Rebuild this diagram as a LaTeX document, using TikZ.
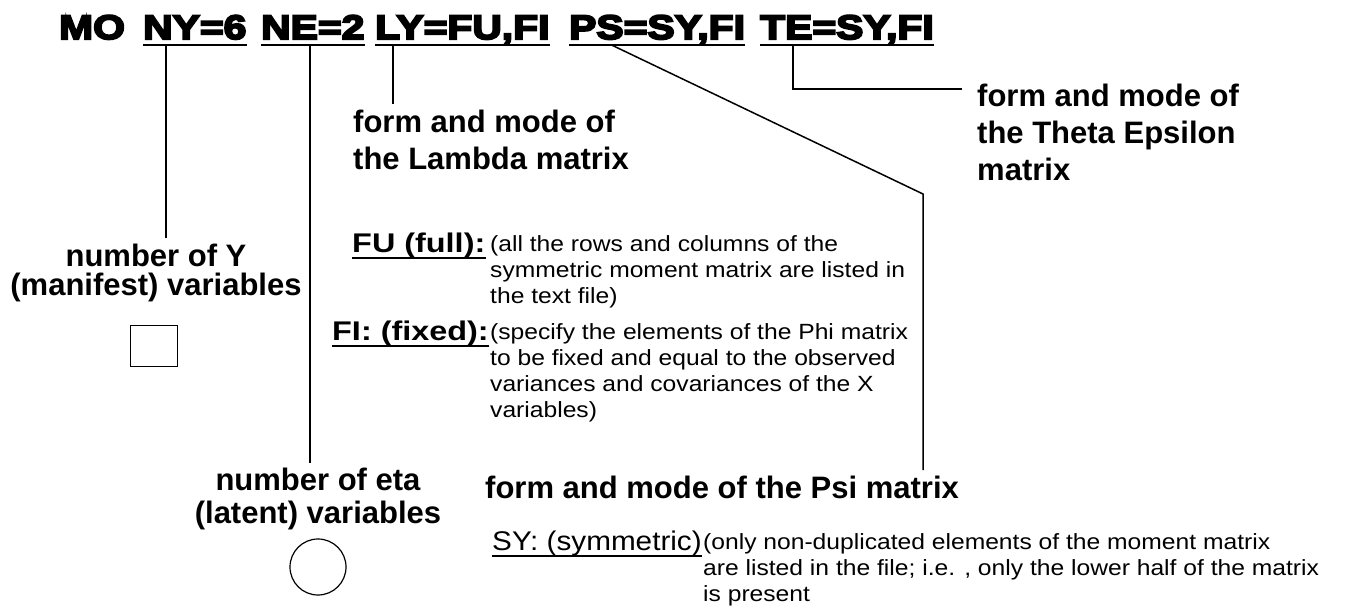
\documentclass[tikz,border=0pt]{standalone}
\usepackage{fontspec}
\setmainfont{Liberation Sans}
\newfontfamily\cmdfont{Liberation Sans}[UprightFont=* Bold,FakeBold=6,FakeStretch=1.2]
\newfontfamily\notefont{Liberation Sans}[FakeStretch=1.12]
\newfontfamily\optfont{Liberation Sans}[FakeStretch=1.2]
\newfontfamily\symfont{Liberation Sans}[FakeStretch=1.1]
\usetikzlibrary{positioning}

\tikzstyle{cmd}=[font=\cmdfont\fontsize{34}{40}\selectfont,inner sep=0pt,text depth=6pt,anchor=base west]
\tikzstyle{heading}=[font=\bfseries\fontsize{31}{37}\selectfont,inner sep=0pt,align=left]
\tikzstyle{varlabel}=[font=\bfseries\fontsize{31}{29}\selectfont,inner sep=0pt,align=center,anchor=north]
\tikzstyle{option}=[font=\optfont\fontsize{27}{32}\selectfont,inner sep=0pt,text depth=6pt,anchor=base west]
\tikzstyle{note}=[font=\notefont\fontsize{22}{26}\selectfont,inner sep=0pt,align=left,anchor=north west]
\tikzstyle{lead}=[line width=1.5pt]
\tikzstyle{uline}=[line width=2.5pt]

\begin{document}
\begin{tikzpicture}[x=1pt,y=-1pt]
\useasboundingbox (0,0) rectangle (1355,611);
% command line
\node(mo)[cmd] at (59,39){MO};
\node(ny)[cmd] at (143,39){NY=6};
\node(ne)[cmd] at (261,39){NE=2};
\node(ly)[cmd] at (375,39){LY=FU,FI};
\node(ps)[cmd] at (569,39){PS=SY,FI};
\node(te)[cmd] at (760,39){TE=SY,FI};
\foreach \n in {ny,ne,ly,ps,te}
  \draw[uline](\n.south west)--(\n.south east);
% labels
\node(nylab)[varlabel] at (156,244){number of Y\\(manifest) variables};
\node(manifest)[draw,line width=1.2pt,minimum width=47pt,minimum height=41pt] at (154,346){};
\node(nelab)[varlabel,font=\bfseries\fontsize{31}{33}\selectfont] at (318,468){number of eta\\(latent) variables};
\node(latent)[draw,circle,line width=1.2pt,minimum size=56pt] at (318,567){};
\node(lylab)[heading,anchor=north west] at (353,110){form and mode of\\the Lambda matrix};
\node(telab)[heading,anchor=north west] at (977,84){form and mode of\\the Theta Epsilon\\matrix};
\node(pslab)[heading,anchor=north west] at (485,476){form and mode of the Psi matrix};
% options
\node(fu)[option] at (352,252){\bfseries FU (full):};
\node(fi)[option] at (332,340){\bfseries FI: (fixed):};
\node(sy)[option,font=\symfont\fontsize{27}{32}\selectfont] at (492,550){SY: (symmetric)};
\foreach \n in {fu,fi,sy}
  \draw[uline](\n.south west)--(\n.south east);
\node(funote)[note] at (490,235){(all the rows and columns of the\\symmetric moment matrix are listed in\\the text file)};
\node(finote)[note] at (490,323){(specify the elements of the Phi matrix\\to be fixed and equal to the observed\\variances and covariances of the X\\variables)};
\node(synote)[note] at (703,533){(only non-duplicated elements of the moment matrix\\are listed in the file; i.e. , only the lower half of the matrix\\is present};
% leaders
\coordinate(nyfoot) at (166,238);
\coordinate(nefoot) at (310,463);
\coordinate(lyfoot) at (393,104);
\coordinate(psbend) at (923,194);
\coordinate(psfoot) at (923,470);
\coordinate(teend) at (962,89);
\draw[lead](ny.south -| nyfoot)--(nyfoot);
\draw[lead](ne.south -| nefoot)--(nefoot);
\draw[lead](ly.south -| lyfoot)--(lyfoot);
\draw[lead]([xshift=43pt]ps.south west)--(psbend)--(psfoot);
\draw[lead]([xshift=33pt]te.south west)|-(teend);
\end{tikzpicture}
\end{document}
